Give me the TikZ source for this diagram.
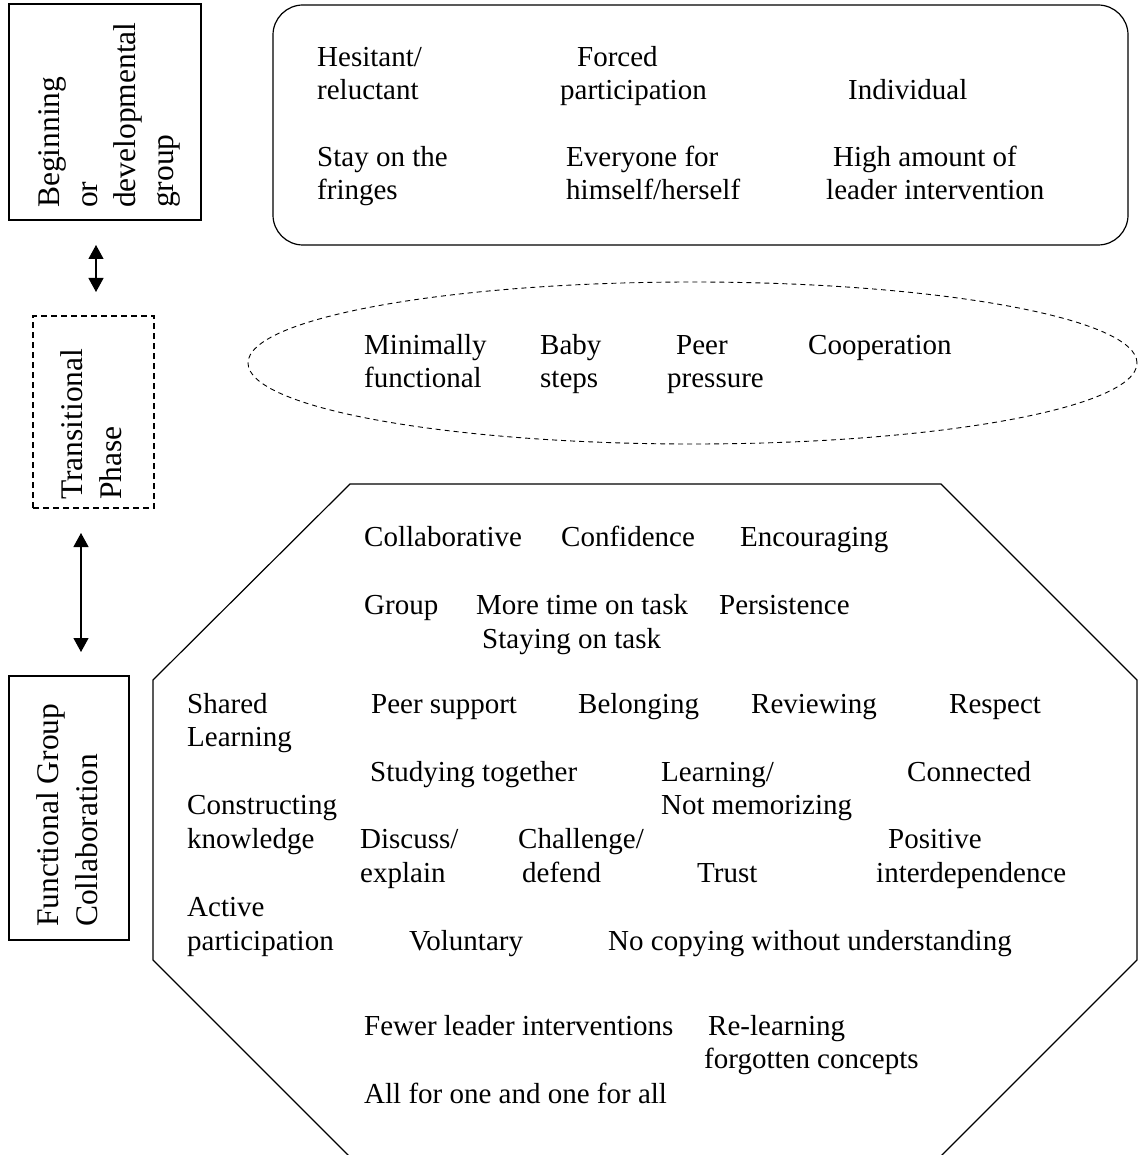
\documentclass[tikz,border=0pt]{standalone}
\usepackage{fontspec}
\setmainfont{Liberation Serif}
\usetikzlibrary{shapes.geometric,arrows.meta}
\begin{document}
\begin{tikzpicture}[x=1pt,y=-1pt,
  txt/.style={anchor=base west,inner sep=0pt,font=\fontsize{29}{33}\selectfont},
  side/.style={rotate=90,anchor=base west,inner sep=0pt,font=\fontsize{31.5}{38}\selectfont},
  frame/.style={draw,line width=1.2pt,inner sep=0pt},
  biarrow/.style={{Triangle[length=14pt,width=15pt]}-{Triangle[length=14pt,width=15pt]},line width=1.2pt}]
\useasboundingbox (0,0) rectangle (1141,1155);

% left phase boxes
\node[frame,minimum width=192pt,minimum height=216pt] (box1) at (105,112) {};
\node[frame,dash pattern=on 6pt off 4pt,minimum width=121pt,minimum height=192pt] (box2) at (93.5,412) {};
\node[frame,minimum width=120pt,minimum height=264pt] (box3) at (69,808) {};

\node[side] (b1a) at (59,208) {Beginning};
\node[side] (b1b) at (97,208) {or};
\node[side] (b1c) at (135,208) {developmental};
\node[side] (b1d) at (173,208) {group};
\node[side] (b2a) at (82,500) {Transitional};
\node[side] (b2b) at (121,500) {Phase};
\node[side] (b3a) at (58,927) {Functional Group};
\node[side] (b3b) at (97,927) {Collaboration};

% arrows
\coordinate (a1t) at (96,245);
\coordinate (a1b) at (96,292);
\coordinate (a2t) at (81,533);
\coordinate (a2b) at (81,652);
\draw[biarrow] (a1t) -- (a1b);
\draw[biarrow] (a2t) -- (a2b);

% top rounded box
\node[frame,rounded corners=30pt,minimum width=855pt,minimum height=240pt] (topbox) at (700.5,125) {};
\node[txt] (t1) at (317,67) {Hesitant/};
\node[txt] (t2) at (317,100) {reluctant};
\node[txt] (t3) at (577,67) {Forced};
\node[txt] (t4) at (560,100) {participation};
\node[txt] (t5) at (848,100) {Individual};
\node[txt] (t6) at (317,167) {Stay on the};
\node[txt] (t7) at (317,200) {fringes};
\node[txt] (t8) at (566,167) {Everyone for};
\node[txt] (t9) at (566,200) {himself/herself};
\node[txt] (t10) at (833,167) {High amount of};
\node[txt] (t11) at (826,200) {leader intervention};

% dashed ellipse
\node[draw,ellipse,dash pattern=on 5pt off 4pt,line width=0.9pt,minimum width=889pt,minimum height=162pt,inner sep=0pt] (oval) at (692.5,363) {};
\node[txt] (e1) at (364,354) {Minimally};
\node[txt] (e2) at (364,387) {functional};
\node[txt] (e3) at (540,354) {Baby};
\node[txt] (e4) at (540,387) {steps};
\node[txt] (e5) at (676,354) {Peer};
\node[txt] (e6) at (667,387) {pressure};
\node[txt] (e7) at (808,354) {Cooperation};

% octagon
\draw[line width=1.2pt] (350,484) -- (941,484) -- (1137,680) -- (1137,960) -- (940,1157) -- (350,1157) -- (153,960) -- (153,680) -- cycle;
\node[txt] (o1) at (364,546) {Collaborative};
\node[txt] (o2) at (561,546) {Confidence};
\node[txt] (o3) at (740,546) {Encouraging};
\node[txt] (o4) at (364,614) {Group};
\node[txt] (o5) at (476,614) {More time on task};
\node[txt] (o6) at (719,614) {Persistence};
\node[txt] (o7) at (482,648) {Staying on task};
\node[txt] (o8) at (187,713) {Shared};
\node[txt] (o9) at (187,746) {Learning};
\node[txt] (o10) at (371,713) {Peer support};
\node[txt] (o11) at (578,713) {Belonging};
\node[txt] (o12) at (751,713) {Reviewing};
\node[txt] (o13) at (949,713) {Respect};
\node[txt] (o14) at (370,781) {Studying together};
\node[txt] (o15) at (661,781) {Learning/};
\node[txt] (o16) at (661,814) {Not memorizing};
\node[txt] (o17) at (907,781) {Connected};
\node[txt] (o18) at (187,814) {Constructing};
\node[txt] (o19) at (187,848) {knowledge};
\node[txt] (o20) at (360,848) {Discuss/};
\node[txt] (o21) at (360,882) {explain};
\node[txt] (o22) at (518,848) {Challenge/};
\node[txt] (o23) at (522,882) {defend};
\node[txt] (o24) at (697,882) {Trust};
\node[txt] (o25) at (888,848) {Positive};
\node[txt] (o26) at (876,882) {interdependence};
\node[txt] (o27) at (187,916) {Active};
\node[txt] (o28) at (187,950) {participation};
\node[txt] (o29) at (409,950) {Voluntary};
\node[txt] (o30) at (608,950) {No copying without understanding};
\node[txt] (o31) at (364,1035) {Fewer leader interventions};
\node[txt] (o32) at (708,1035) {Re-learning};
\node[txt] (o33) at (704,1068) {forgotten concepts};
\node[txt] (o34) at (364,1103) {All for one and one for all};
\end{tikzpicture}
\end{document}
